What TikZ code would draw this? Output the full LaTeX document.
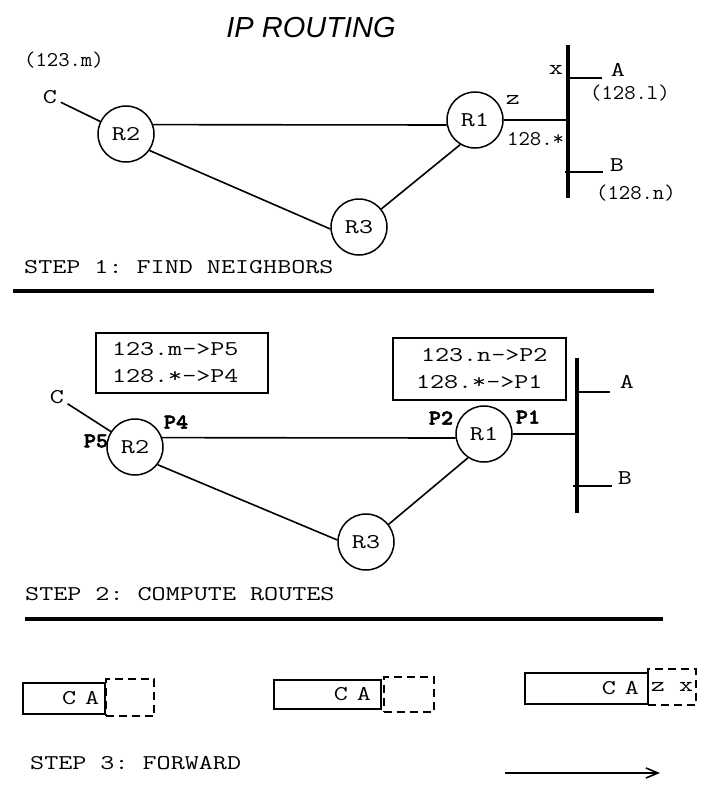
\documentclass[tikz,border=0pt]{standalone}
\usepackage{fontspec}
\usepackage{graphicx}
\usetikzlibrary{arrows.meta}
\newfontfamily\titlefont{Liberation Sans}
\newfontfamily\boldmono{lmmonolt10-bold.otf}[FakeBold=2.5]
\newcommand\mt[1]{\scalebox{1.3}[1]{#1}}
\newcommand\ma[1]{\scalebox{1.05}[1]{#1}}
\newcommand\mb[1]{\scalebox{1.1}[1]{\boldmono #1}}
\begin{document}
\begin{tikzpicture}[x=1pt,y=-1pt,
  every node/.style={font=\ttfamily\fontsize{21}{27}\selectfont\frenchspacing, inner sep=0pt},
  router/.style={circle, draw, line width=1.5pt, minimum size=56pt},
  link/.style={line width=1.6pt},
  bus/.style={line width=3.5pt},
  sepline/.style={line width=3.5pt},
  rtable/.style={draw, line width=2pt, align=left, inner ysep=0pt},
  pkt/.style={draw, line width=2pt, align=right, inner ysep=0pt},
  hdr/.style={draw, dash pattern=on 8pt off 5pt, line width=2pt},
]
\useasboundingbox (0,0) rectangle (714,804);
\node (title) at (311,28) {\titlefont\itshape\fontsize{29}{30}\selectfont IP ROUTING};
% ---------- step 1
\node[anchor=west] (addrC) at (24,60) {\ma{(123.m)}};
\node (C1) at (50,97) {\mt{C}};
\node[router] (R2a) at (126,134) {\mt{R2}};
\node[router] (R1a) at (475,120) {\mt{R1}};
\node[router] (R3a) at (359,227) {\mt{R3}};
\coordinate (bus1t) at (568,45);
\coordinate (bus1b) at (568,198);
\coordinate (stubA1) at (602,78);
\coordinate (stubB1s) at (565,172);
\coordinate (stubB1) at (603,172);
\node (x1) at (556,70) {\mt{x}};
\node (A1) at (618,70) {\mt{A}};
\node[anchor=west] (addrA) at (590,93) {\ma{(128.l)}};
\node (z1) at (513,100) {\mt{z}};
\node[anchor=west] (net1) at (507,139) {\ma{128.*}};
\node (B1) at (617,165) {\mt{B}};
\node[anchor=west] (addrB) at (596,193) {\ma{(128.n)}};
\draw[link, shorten <=4pt] (C1) -- (R2a);
\draw[link] (R2a.19) -- (R1a.190);
\draw[link] (R2a.-35) -- (R3a.184);
\draw[link] (R1a.239) -- (R3a.39);
\draw[bus] (bus1t) -- (bus1b);
\draw[link] (R1a.east) -- (R1a.east -| bus1t);
\draw[link] (stubA1 -| bus1t) -- (stubA1);
\draw[link] (stubB1s) -- (stubB1);
\node[anchor=west] (step1) at (24,267) {\mt{STEP 1: FIND NEIGHBORS}};
\coordinate (sep1a) at (13,291);
\coordinate (sep1b) at (654,291);
\draw[sepline] (sep1a) -- (sep1b);
% ---------- step 2
\node[rtable, minimum width=172pt, minimum height=60pt, text width=140pt, inner xsep=16pt] (tab2) at (182,363) {\mt{123.m->P5}\\\mt{128.*->P4}};
\node[rtable, minimum width=173pt, minimum height=62pt, text width=127pt, inner xsep=23pt] (tab1) at (479.5,369) {\hspace*{5pt}\mt{123.n->P2}\\\mt{128.*->P1}};
\node (C2) at (57,397) {\mt{C}};
\node[router] (R2b) at (135,447) {\mt{R2}};
\node[router] (R1b) at (484,434) {\mt{R1}};
\node[router] (R3b) at (366,542) {\mt{R3}};
\node (P5) at (96,441) {\mb{P5}};
\node (P4) at (176,422) {\mb{P4}};
\node (P2) at (441,418) {\mb{P2}};
\node (P1) at (528,417) {\mb{P1}};
\coordinate (bus2t) at (577,358);
\coordinate (bus2b) at (577,513);
\coordinate (stubA2) at (610,392);
\coordinate (stubB2s) at (573,486);
\coordinate (stubB2) at (612,486);
\node (A2) at (627,382) {\mt{A}};
\node (B2) at (625,478) {\mt{B}};
\draw[link, shorten <=4pt] (C2) -- (R2b);
\draw[link] (R2b.19) -- (R1b.188);
\draw[link] (R2b.-38) -- (R3b.176);
\draw[link] (R1b.236) -- (R3b.38);
\draw[bus] (bus2t) -- (bus2b);
\draw[link] (R1b.east) -- (R1b.east -| bus2t);
\draw[link] (stubA2 -| bus2t) -- (stubA2);
\draw[link] (stubB2s) -- (stubB2);
\node[anchor=west] (step2) at (25,594) {\mt{STEP 2: COMPUTE ROUTES}};
\coordinate (sep2a) at (25,619);
\coordinate (sep2b) at (663,619);
\draw[sepline] (sep2a) -- (sep2b);
% ---------- step 3
\node[pkt, minimum width=82pt, minimum height=31pt, text width=70pt, inner xsep=6pt] (pk1) at (64.25,698.5) {\mt{C A}};
\node[hdr, minimum width=48.5pt, minimum height=37pt] (h1) at (129.75,697.5) {};
\node[pkt, minimum width=107pt, minimum height=29pt, text width=87pt, inner xsep=10pt] (pk2) at (327.5,694.5) {\mt{C A}};
\node[hdr, minimum width=50pt, minimum height=35pt] (h2) at (408.5,694.5) {};
\node[pkt, minimum width=123pt, minimum height=31pt, text width=105pt, inner xsep=9pt] (pk3) at (586.5,688.5) {\mt{C A}};
\node[hdr, minimum width=48pt, minimum height=36pt] (h3) at (672,687) {\mt{z x}};
\node[anchor=west] (step3) at (30,763) {\mt{STEP 3: FORWARD}};
\coordinate (arrS) at (505,773);
\coordinate (arrE) at (660,773);
\draw[link, -{Straight Barb[length=12pt,width=10pt]}] (arrS) -- (arrE);
\end{tikzpicture}
\end{document}
